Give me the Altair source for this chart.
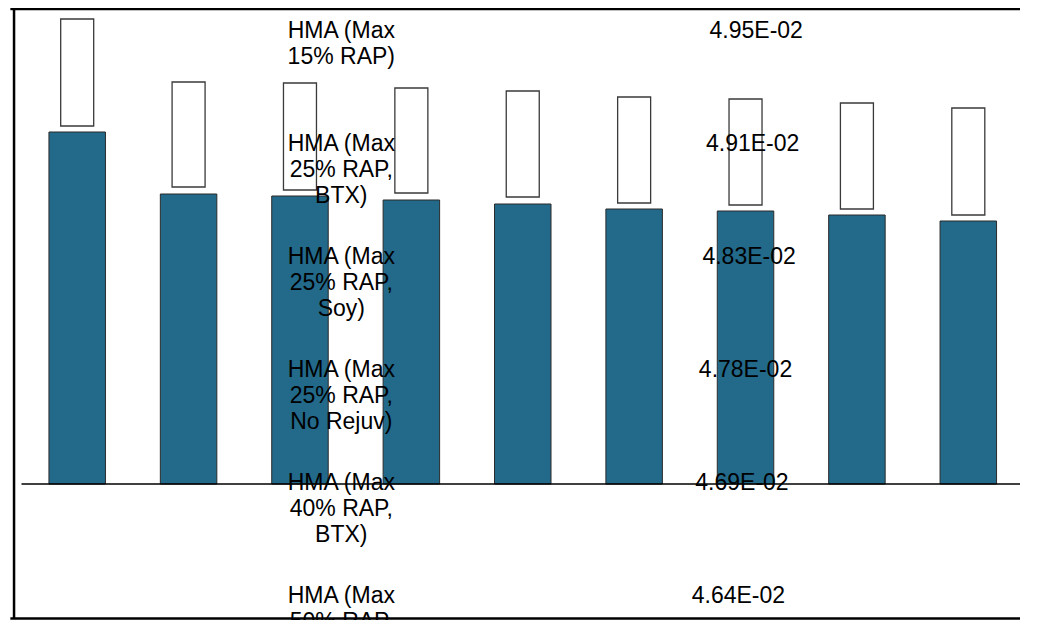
import altair as alt
import pandas as pd

# ---- data ----
bar_pos = list(range(9))
filled = [3.52, 2.90, 2.88, 2.84, 2.80, 2.75, 2.73, 2.69, 2.63]
box_low = [3.58, 2.97, 2.94, 2.91, 2.87, 2.81, 2.79, 2.75, 2.69]
box_high = [4.65, 4.02, 4.01, 3.96, 3.93, 3.87, 3.85, 3.81, 3.76]

mix_labels = [
    "HMA (Max\n15% RAP)",
    "HMA (Max\n25% RAP,\nBTX)",
    "HMA (Max\n25% RAP,\nSoy)",
    "HMA (Max\n25% RAP,\nNo Rejuv)",
    "HMA (Max\n40% RAP,\nBTX)",
    "HMA (Max\n50% RAP,\nBTX)",
]
mix_values = [4.95e-2, 4.91e-2, 4.83e-2, 4.78e-2, 4.69e-2, 4.64e-2]

W, H = 1012, 612
FONT = "Liberation Sans"
FS = 23

bars = pd.DataFrame({"pos": bar_pos, "filled": filled, "low": box_low, "high": box_high})
table = pd.DataFrame({
    "row": list(range(len(mix_labels))),
    "label": mix_labels,
    "value": [f"{v:.2E}" for v in mix_values],
})


def xs():
    return alt.Scale(domain=[-0.5, 8.5], range=[8.5, 1021], nice=False, zero=False)


def ys():
    return alt.Scale(domain=[-1.36, 4.76], range=[H, 0], nice=False, zero=False)


base = alt.Chart(bars)

filled_bars = base.mark_bar(
    width=56.5, color="#22698A", stroke="#2b2b2b", strokeWidth=1
).encode(
    x=alt.X("pos:Q", axis=None, scale=xs()),
    y=alt.Y("filled:Q", axis=None, scale=ys()),
    y2=alt.Y2(datum=0),
)

open_boxes = base.mark_bar(
    width=33, color="white", stroke="#3a3a3a", strokeWidth=1.3
).encode(
    x=alt.X("pos:Q", axis=None, scale=xs()),
    y=alt.Y("low:Q", axis=None, scale=ys()),
    y2="high:Q",
)

baseline = alt.Chart(pd.DataFrame({"y": [0.0], "x0": [-0.5], "x1": [8.5]})).mark_rule(
    color="black", strokeWidth=1.3
).encode(
    y=alt.Y("y:Q", axis=None, scale=ys()),
    x=alt.X("x0:Q", axis=None, scale=xs()),
    x2="x1:Q",
)

tbase = alt.Chart(table).transform_calculate(
    ty="4.53 - 1.13 * datum.row",
    lx="2.371",
    vx="6.096 - 0.032 * datum.row",
)

label_text = tbase.mark_text(
    font=FONT, fontSize=FS, lineBreak="\n", lineHeight=26, align="center",
    baseline="middle", color="black",
).encode(
    x=alt.X("lx:Q", axis=None, scale=xs()),
    y=alt.Y("ty:Q", axis=None, scale=ys()),
    text="label:N",
)

value_text = tbase.mark_text(
    font=FONT, fontSize=FS, align="center", baseline="middle", color="black"
).encode(
    x=alt.X("vx:Q", axis=None, scale=xs()),
    y=alt.Y("ty:Q", axis=None, scale=ys()),
    text="value:N",
)

# frame (top, left, bottom) expressed in the chart's data units
frame = pd.DataFrame({
    "x0": [-0.6, -0.567, -0.6],
    "x1": [8.62, -0.567, 8.62],
    "y0": [4.75, 4.76, -1.345],
    "y1": [4.75, -1.345, -1.345],
})
frame_rules = alt.Chart(frame).mark_rule(color="black", strokeWidth=2.5).encode(
    x=alt.X("x0:Q", axis=None, scale=xs()),
    x2="x1:Q",
    y=alt.Y("y0:Q", axis=None, scale=ys()),
    y2="y1:Q",
)

chart = alt.layer(
    filled_bars, open_boxes, baseline, label_text, value_text, frame_rules,
).properties(
    width=W, height=H, padding=0, autosize=alt.AutoSizeParams(type="none"),
    background="white",
).configure_view(stroke="transparent", strokeWidth=0)

chart.save("out.html", embed_options={"renderer": "svg", "actions": False})
